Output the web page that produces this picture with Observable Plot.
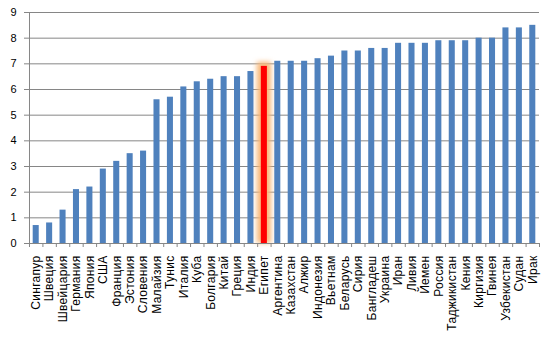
<!DOCTYPE html>
<html>
<head>
<meta charset="utf-8">
<script src="https://cdn.jsdelivr.net/npm/d3@7"></script>
<script src="https://cdn.jsdelivr.net/npm/@observablehq/plot@0.6"></script>
<style>
  html, body { margin: 0; padding: 0; background: #fff; }
  #chart svg { display: block; }
</style>
</head>
<body>
<div id="chart"></div>
<script>
const countries = ["Сингапур","Швеция","Швейцария","Германия","Япония","США","Франция","Эстония","Словения","Малайзия","Тунис","Италия","Куба","Болгария","Китай","Греция","Индия","Египет","Аргентина","Казахстан","Алжир","Индонезия","Вьетнам","Беларусь","Сирия","Бангладеш","Украина","Иран","Ливия","Йемен","Россия","Таджикистан","Кения","Киргизия","Гвинея","Узбекистан","Судан","Ирак"];
const values = [0.7,0.8,1.3,2.1,2.2,2.9,3.2,3.5,3.6,5.6,5.7,6.1,6.3,6.4,6.5,6.5,6.7,6.9,7.1,7.1,7.1,7.2,7.3,7.5,7.5,7.6,7.6,7.8,7.8,7.8,7.9,7.9,7.9,8.0,8.0,8.4,8.4,8.5];
const highlighted = "Египет";
const yTicks = [0,1,2,3,4,5,6,7,8,9];

const data = countries.map((c, i) => ({country: c, value: values[i]}));
const hl = data.filter(d => d.country === highlighted);

const width = 552, height = 352;
const mL = 29, mR = 13, mT = 12, mB = 109;
const step = (width - mL - mR) / countries.length;
const gray = "#868686";
const glowColor = "#f8b878";

const chart = Plot.plot({
  width, height,
  marginLeft: mL, marginRight: mR, marginTop: mT, marginBottom: mB,
  style: {fontFamily: "'Liberation Sans', Arial, sans-serif", fontSize: "11px", color: "#000", background: "#fff"},
  x: {domain: countries, paddingInner: 0.55, paddingOuter: 0.275, round: false, align: 0.5},
  y: {domain: [0, 9]},
  marks: [
    Plot.gridY(yTicks, {stroke: gray, strokeOpacity: 1}),
    Plot.ruleX([countries[0]], {dx: -step / 2, stroke: gray}),
    Plot.axisY(yTicks, {tickSize: 5, tickPadding: 8, stroke: gray, fill: "#000", label: null, fontSize: 11}),
    Plot.axisX({tickSize: 4, tickFormat: () => "", dx: -step / 2, stroke: gray, label: null}),
    Plot.axisX([countries[countries.length - 1]], {tickSize: 4, tickFormat: () => "", dx: step / 2, stroke: gray, label: null}),
    Plot.axisX({tickSize: 0, tickPadding: 12, tickRotate: -90, fill: "#000", label: null, fontSize: 12}),
    Plot.barY(hl, {x: "country", y: "value", fill: glowColor, insetLeft: -4, insetRight: -4, insetTop: -4}),
    Plot.barY(data, {x: "country", y: "value", fill: d => d.country === highlighted ? "#FF0000" : "#4F81BD"}),
    Plot.ruleY([0], {stroke: gray})
  ]
});

const defs = document.createElementNS("http://www.w3.org/2000/svg", "defs");
defs.innerHTML = '<filter id="glowBlur" x="-2" y="-0.2" width="5" height="1.4"><feGaussianBlur stdDeviation="2.5"/></filter>';
chart.insertBefore(defs, chart.firstChild);
chart.querySelectorAll("g, rect").forEach(el => {
  const f = (el.getAttribute("fill") || "").toLowerCase();
  if (f === glowColor) el.setAttribute("filter", "url(#glowBlur)");
});
chart.querySelectorAll('text').forEach(t => {
  if (t.closest('g') && /x-axis tick label/.test(t.closest('g').getAttribute("aria-label") || "")) t.setAttribute("letter-spacing", "0.3");
});

document.getElementById("chart").appendChild(chart);
</script>
</body>
</html>
